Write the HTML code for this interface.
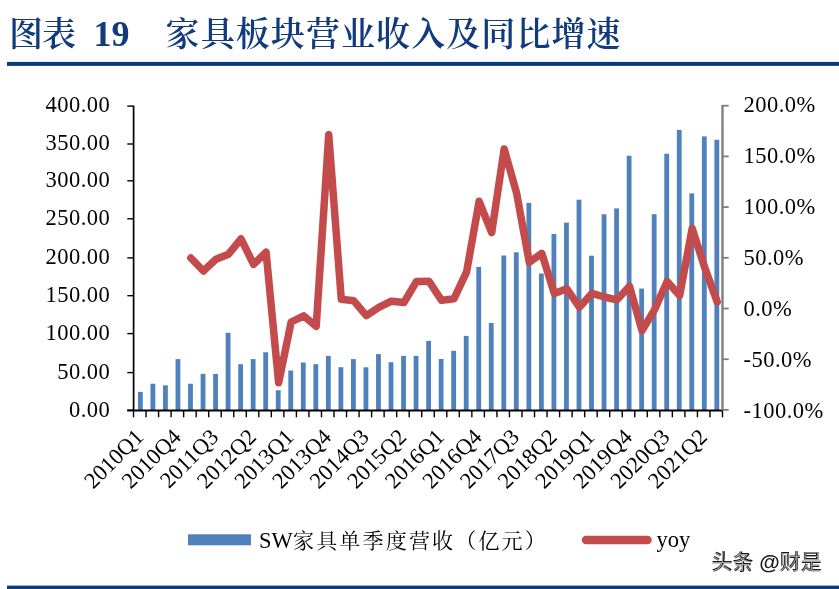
<!DOCTYPE html>
<html><head><meta charset="utf-8"><style>
html,body{margin:0;padding:0;background:#fff;}
body{width:839px;height:589px;overflow:hidden;position:relative;}
svg{position:absolute;left:0;top:0;}
.num{font-family:"Liberation Serif","Noto Serif CJK SC",serif;font-size:22.5px;fill:#000;}
.ttl{font-family:"Liberation Serif","Noto Serif CJK SC",serif;font-weight:700;fill:#113B7C;}
.leg{font-family:"Liberation Serif","Noto Serif CJK SC",serif;font-size:21px;fill:#000;}
.wm{font-family:"Liberation Sans","Noto Sans CJK SC",sans-serif;font-size:21px;font-weight:500;fill:#222;}
</style></head><body>
<svg width="839" height="589" viewBox="0 0 839 589">
<g class="ttl">
<text x="9" y="46.3" font-size="34" letter-spacing="-1" font-weight="600">图表</text>
<text x="93.5" y="46.2" font-size="36">19</text>
<text x="165.6" y="46.3" font-size="34" letter-spacing="1.08" font-weight="600">家具板块营业收入及同比增速</text>
</g>
<rect x="7" y="61.9" width="832" height="4" fill="#073B7E"/>
<g>
<rect x="137.97" y="391.90" width="4.8" height="18.40" fill="#4F81BD"/>
<rect x="150.50" y="383.75" width="4.8" height="26.55" fill="#4F81BD"/>
<rect x="163.03" y="385.30" width="4.8" height="25.00" fill="#4F81BD"/>
<rect x="175.56" y="359.10" width="4.8" height="51.20" fill="#4F81BD"/>
<rect x="188.09" y="383.75" width="4.8" height="26.55" fill="#4F81BD"/>
<rect x="200.63" y="373.90" width="4.8" height="36.40" fill="#4F81BD"/>
<rect x="213.16" y="373.90" width="4.8" height="36.40" fill="#4F81BD"/>
<rect x="225.69" y="332.80" width="4.8" height="77.50" fill="#4F81BD"/>
<rect x="238.22" y="364.20" width="4.8" height="46.10" fill="#4F81BD"/>
<rect x="250.75" y="359.10" width="4.8" height="51.20" fill="#4F81BD"/>
<rect x="263.29" y="352.30" width="4.8" height="58.00" fill="#4F81BD"/>
<rect x="275.82" y="390.30" width="4.8" height="20.00" fill="#4F81BD"/>
<rect x="288.35" y="370.50" width="4.8" height="39.80" fill="#4F81BD"/>
<rect x="300.88" y="362.50" width="4.8" height="47.80" fill="#4F81BD"/>
<rect x="313.41" y="364.20" width="4.8" height="46.10" fill="#4F81BD"/>
<rect x="325.94" y="355.90" width="4.8" height="54.40" fill="#4F81BD"/>
<rect x="338.48" y="367.20" width="4.8" height="43.10" fill="#4F81BD"/>
<rect x="351.01" y="359.10" width="4.8" height="51.20" fill="#4F81BD"/>
<rect x="363.54" y="367.30" width="4.8" height="43.00" fill="#4F81BD"/>
<rect x="376.07" y="354.10" width="4.8" height="56.20" fill="#4F81BD"/>
<rect x="388.60" y="362.20" width="4.8" height="48.10" fill="#4F81BD"/>
<rect x="401.14" y="355.90" width="4.8" height="54.40" fill="#4F81BD"/>
<rect x="413.67" y="355.90" width="4.8" height="54.40" fill="#4F81BD"/>
<rect x="426.20" y="340.90" width="4.8" height="69.40" fill="#4F81BD"/>
<rect x="438.73" y="359.00" width="4.8" height="51.30" fill="#4F81BD"/>
<rect x="451.26" y="350.80" width="4.8" height="59.50" fill="#4F81BD"/>
<rect x="463.80" y="335.90" width="4.8" height="74.40" fill="#4F81BD"/>
<rect x="476.33" y="266.90" width="4.8" height="143.40" fill="#4F81BD"/>
<rect x="488.86" y="323.00" width="4.8" height="87.30" fill="#4F81BD"/>
<rect x="501.39" y="255.50" width="4.8" height="154.80" fill="#4F81BD"/>
<rect x="513.92" y="252.30" width="4.8" height="158.00" fill="#4F81BD"/>
<rect x="526.46" y="202.90" width="4.8" height="207.40" fill="#4F81BD"/>
<rect x="538.99" y="273.50" width="4.8" height="136.80" fill="#4F81BD"/>
<rect x="551.52" y="234.00" width="4.8" height="176.30" fill="#4F81BD"/>
<rect x="564.05" y="222.60" width="4.8" height="187.70" fill="#4F81BD"/>
<rect x="576.58" y="199.70" width="4.8" height="210.60" fill="#4F81BD"/>
<rect x="589.11" y="255.70" width="4.8" height="154.60" fill="#4F81BD"/>
<rect x="601.65" y="214.30" width="4.8" height="196.00" fill="#4F81BD"/>
<rect x="614.18" y="208.40" width="4.8" height="201.90" fill="#4F81BD"/>
<rect x="626.71" y="155.70" width="4.8" height="254.60" fill="#4F81BD"/>
<rect x="639.24" y="288.60" width="4.8" height="121.70" fill="#4F81BD"/>
<rect x="651.77" y="214.20" width="4.8" height="196.10" fill="#4F81BD"/>
<rect x="664.31" y="153.70" width="4.8" height="256.60" fill="#4F81BD"/>
<rect x="676.84" y="129.90" width="4.8" height="280.40" fill="#4F81BD"/>
<rect x="689.37" y="193.40" width="4.8" height="216.90" fill="#4F81BD"/>
<rect x="701.90" y="136.40" width="4.8" height="273.90" fill="#4F81BD"/>
<rect x="714.43" y="139.80" width="4.8" height="270.50" fill="#4F81BD"/>
</g>
<g>
<line x1="133.6" y1="105.4" x2="133.6" y2="411.0" stroke="#000" stroke-width="1.7"/>
<line x1="127.3" y1="106.10" x2="133.5" y2="106.10" stroke="#000" stroke-width="1.4"/>
<line x1="127.3" y1="144.00" x2="133.5" y2="144.00" stroke="#000" stroke-width="1.4"/>
<line x1="127.3" y1="180.80" x2="133.5" y2="180.80" stroke="#000" stroke-width="1.4"/>
<line x1="127.3" y1="218.80" x2="133.5" y2="218.80" stroke="#000" stroke-width="1.4"/>
<line x1="127.3" y1="257.90" x2="133.5" y2="257.90" stroke="#000" stroke-width="1.4"/>
<line x1="127.3" y1="295.70" x2="133.5" y2="295.70" stroke="#000" stroke-width="1.4"/>
<line x1="127.3" y1="333.60" x2="133.5" y2="333.60" stroke="#000" stroke-width="1.4"/>
<line x1="127.3" y1="372.60" x2="133.5" y2="372.60" stroke="#000" stroke-width="1.4"/>
<line x1="127.3" y1="410.30" x2="133.5" y2="410.30" stroke="#000" stroke-width="1.4"/>
<line x1="127.3" y1="410.5" x2="722.5" y2="410.5" stroke="#000" stroke-width="2"/>
<line x1="133.50" y1="410.3" x2="133.50" y2="417.3" stroke="#000" stroke-width="1.4"/>
<line x1="146.03" y1="410.3" x2="146.03" y2="417.3" stroke="#000" stroke-width="1.4"/>
<line x1="158.56" y1="410.3" x2="158.56" y2="417.3" stroke="#000" stroke-width="1.4"/>
<line x1="171.10" y1="410.3" x2="171.10" y2="417.3" stroke="#000" stroke-width="1.4"/>
<line x1="183.63" y1="410.3" x2="183.63" y2="417.3" stroke="#000" stroke-width="1.4"/>
<line x1="196.16" y1="410.3" x2="196.16" y2="417.3" stroke="#000" stroke-width="1.4"/>
<line x1="208.69" y1="410.3" x2="208.69" y2="417.3" stroke="#000" stroke-width="1.4"/>
<line x1="221.22" y1="410.3" x2="221.22" y2="417.3" stroke="#000" stroke-width="1.4"/>
<line x1="233.76" y1="410.3" x2="233.76" y2="417.3" stroke="#000" stroke-width="1.4"/>
<line x1="246.29" y1="410.3" x2="246.29" y2="417.3" stroke="#000" stroke-width="1.4"/>
<line x1="258.82" y1="410.3" x2="258.82" y2="417.3" stroke="#000" stroke-width="1.4"/>
<line x1="271.35" y1="410.3" x2="271.35" y2="417.3" stroke="#000" stroke-width="1.4"/>
<line x1="283.88" y1="410.3" x2="283.88" y2="417.3" stroke="#000" stroke-width="1.4"/>
<line x1="296.41" y1="410.3" x2="296.41" y2="417.3" stroke="#000" stroke-width="1.4"/>
<line x1="308.95" y1="410.3" x2="308.95" y2="417.3" stroke="#000" stroke-width="1.4"/>
<line x1="321.48" y1="410.3" x2="321.48" y2="417.3" stroke="#000" stroke-width="1.4"/>
<line x1="334.01" y1="410.3" x2="334.01" y2="417.3" stroke="#000" stroke-width="1.4"/>
<line x1="346.54" y1="410.3" x2="346.54" y2="417.3" stroke="#000" stroke-width="1.4"/>
<line x1="359.07" y1="410.3" x2="359.07" y2="417.3" stroke="#000" stroke-width="1.4"/>
<line x1="371.61" y1="410.3" x2="371.61" y2="417.3" stroke="#000" stroke-width="1.4"/>
<line x1="384.14" y1="410.3" x2="384.14" y2="417.3" stroke="#000" stroke-width="1.4"/>
<line x1="396.67" y1="410.3" x2="396.67" y2="417.3" stroke="#000" stroke-width="1.4"/>
<line x1="409.20" y1="410.3" x2="409.20" y2="417.3" stroke="#000" stroke-width="1.4"/>
<line x1="421.73" y1="410.3" x2="421.73" y2="417.3" stroke="#000" stroke-width="1.4"/>
<line x1="434.27" y1="410.3" x2="434.27" y2="417.3" stroke="#000" stroke-width="1.4"/>
<line x1="446.80" y1="410.3" x2="446.80" y2="417.3" stroke="#000" stroke-width="1.4"/>
<line x1="459.33" y1="410.3" x2="459.33" y2="417.3" stroke="#000" stroke-width="1.4"/>
<line x1="471.86" y1="410.3" x2="471.86" y2="417.3" stroke="#000" stroke-width="1.4"/>
<line x1="484.39" y1="410.3" x2="484.39" y2="417.3" stroke="#000" stroke-width="1.4"/>
<line x1="496.93" y1="410.3" x2="496.93" y2="417.3" stroke="#000" stroke-width="1.4"/>
<line x1="509.46" y1="410.3" x2="509.46" y2="417.3" stroke="#000" stroke-width="1.4"/>
<line x1="521.99" y1="410.3" x2="521.99" y2="417.3" stroke="#000" stroke-width="1.4"/>
<line x1="534.52" y1="410.3" x2="534.52" y2="417.3" stroke="#000" stroke-width="1.4"/>
<line x1="547.05" y1="410.3" x2="547.05" y2="417.3" stroke="#000" stroke-width="1.4"/>
<line x1="559.59" y1="410.3" x2="559.59" y2="417.3" stroke="#000" stroke-width="1.4"/>
<line x1="572.12" y1="410.3" x2="572.12" y2="417.3" stroke="#000" stroke-width="1.4"/>
<line x1="584.65" y1="410.3" x2="584.65" y2="417.3" stroke="#000" stroke-width="1.4"/>
<line x1="597.18" y1="410.3" x2="597.18" y2="417.3" stroke="#000" stroke-width="1.4"/>
<line x1="609.71" y1="410.3" x2="609.71" y2="417.3" stroke="#000" stroke-width="1.4"/>
<line x1="622.24" y1="410.3" x2="622.24" y2="417.3" stroke="#000" stroke-width="1.4"/>
<line x1="634.78" y1="410.3" x2="634.78" y2="417.3" stroke="#000" stroke-width="1.4"/>
<line x1="647.31" y1="410.3" x2="647.31" y2="417.3" stroke="#000" stroke-width="1.4"/>
<line x1="659.84" y1="410.3" x2="659.84" y2="417.3" stroke="#000" stroke-width="1.4"/>
<line x1="672.37" y1="410.3" x2="672.37" y2="417.3" stroke="#000" stroke-width="1.4"/>
<line x1="684.90" y1="410.3" x2="684.90" y2="417.3" stroke="#000" stroke-width="1.4"/>
<line x1="697.44" y1="410.3" x2="697.44" y2="417.3" stroke="#000" stroke-width="1.4"/>
<line x1="709.97" y1="410.3" x2="709.97" y2="417.3" stroke="#000" stroke-width="1.4"/>
<line x1="722.50" y1="410.3" x2="722.50" y2="417.3" stroke="#000" stroke-width="1.4"/>
<line x1="722.5" y1="105" x2="722.5" y2="410.3" stroke="#7F7F7F" stroke-width="2.4"/>
<line x1="722.5" y1="105.70" x2="728.7" y2="105.70" stroke="#7F7F7F" stroke-width="1.8"/>
<line x1="722.5" y1="156.40" x2="728.7" y2="156.40" stroke="#7F7F7F" stroke-width="1.8"/>
<line x1="722.5" y1="207.10" x2="728.7" y2="207.10" stroke="#7F7F7F" stroke-width="1.8"/>
<line x1="722.5" y1="257.80" x2="728.7" y2="257.80" stroke="#7F7F7F" stroke-width="1.8"/>
<line x1="722.5" y1="308.50" x2="728.7" y2="308.50" stroke="#7F7F7F" stroke-width="1.8"/>
<line x1="722.5" y1="359.20" x2="728.7" y2="359.20" stroke="#7F7F7F" stroke-width="1.8"/>
<line x1="722.5" y1="409.90" x2="728.7" y2="409.90" stroke="#7F7F7F" stroke-width="1.8"/>
</g>
<polyline points="190.89,258.00 203.43,271.00 215.96,259.20 228.49,254.20 241.02,238.80 253.55,264.30 266.09,252.20 278.62,382.70 291.15,322.00 303.68,315.80 316.21,326.30 328.74,134.70 341.28,299.30 353.81,300.80 366.34,315.60 378.87,307.30 391.40,301.20 403.94,302.50 416.47,281.50 429.00,281.30 441.53,300.40 454.06,298.70 466.60,271.90 479.13,201.30 491.66,232.60 504.19,149.00 516.72,193.60 529.26,262.30 541.79,253.40 554.32,293.40 566.85,288.80 579.38,307.20 591.91,293.40 604.45,297.00 616.98,299.80 629.51,286.20 642.04,330.70 654.57,309.60 667.11,281.50 679.64,295.50 692.17,228.50 704.70,267.50 717.23,301.90" fill="none" stroke="#C44B4B" stroke-width="7.5" stroke-linejoin="round" stroke-linecap="round"/>
<g class="num">
<text x="110.2" y="111.70" text-anchor="end" letter-spacing="0.45">400.00</text>
<text x="110.2" y="149.78" text-anchor="end" letter-spacing="0.45">350.00</text>
<text x="110.2" y="186.75" text-anchor="end" letter-spacing="0.45">300.00</text>
<text x="110.2" y="224.93" text-anchor="end" letter-spacing="0.45">250.00</text>
<text x="110.2" y="264.20" text-anchor="end" letter-spacing="0.45">200.00</text>
<text x="110.2" y="302.18" text-anchor="end" letter-spacing="0.45">150.00</text>
<text x="110.2" y="340.25" text-anchor="end" letter-spacing="0.45">100.00</text>
<text x="110.2" y="379.43" text-anchor="end" letter-spacing="0.45">50.00</text>
<text x="110.2" y="417.30" text-anchor="end" letter-spacing="0.45">0.00</text>
<text x="743.6" y="111.60" letter-spacing="0.45">200.0%</text>
<text x="743.6" y="162.58" letter-spacing="0.45">150.0%</text>
<text x="743.6" y="213.57" letter-spacing="0.45">100.0%</text>
<text x="743.6" y="264.55" letter-spacing="0.45">50.0%</text>
<text x="743.6" y="315.53" letter-spacing="0.45">0.0%</text>
<text x="743.6" y="366.52" letter-spacing="0.45">-50.0%</text>
<text x="743.6" y="417.50" letter-spacing="0.45">-100.0%</text>
</g>
<g class="num" style="font-size:22.6px">
<text transform="translate(139.37,433) rotate(-45)" text-anchor="end" dy="0.33em">2010Q1</text>
<text transform="translate(176.96,433) rotate(-45)" text-anchor="end" dy="0.33em">2010Q4</text>
<text transform="translate(214.56,433) rotate(-45)" text-anchor="end" dy="0.33em">2011Q3</text>
<text transform="translate(252.15,433) rotate(-45)" text-anchor="end" dy="0.33em">2012Q2</text>
<text transform="translate(289.75,433) rotate(-45)" text-anchor="end" dy="0.33em">2013Q1</text>
<text transform="translate(327.34,433) rotate(-45)" text-anchor="end" dy="0.33em">2013Q4</text>
<text transform="translate(364.94,433) rotate(-45)" text-anchor="end" dy="0.33em">2014Q3</text>
<text transform="translate(402.54,433) rotate(-45)" text-anchor="end" dy="0.33em">2015Q2</text>
<text transform="translate(440.13,433) rotate(-45)" text-anchor="end" dy="0.33em">2016Q1</text>
<text transform="translate(477.73,433) rotate(-45)" text-anchor="end" dy="0.33em">2016Q4</text>
<text transform="translate(515.32,433) rotate(-45)" text-anchor="end" dy="0.33em">2017Q3</text>
<text transform="translate(552.92,433) rotate(-45)" text-anchor="end" dy="0.33em">2018Q2</text>
<text transform="translate(590.51,433) rotate(-45)" text-anchor="end" dy="0.33em">2019Q1</text>
<text transform="translate(628.11,433) rotate(-45)" text-anchor="end" dy="0.33em">2019Q4</text>
<text transform="translate(665.71,433) rotate(-45)" text-anchor="end" dy="0.33em">2020Q3</text>
<text transform="translate(703.30,433) rotate(-45)" text-anchor="end" dy="0.33em">2021Q2</text>
</g>
<rect x="188" y="534.3" width="63" height="11" fill="#4F81BD"/>
<text class="leg" x="259" y="548.1" style="font-size:22.5px">SW</text>
<text class="leg" x="293" y="548.3" letter-spacing="2.18">家具单季度营收（亿元）</text>
<line x1="586" y1="540" x2="647.5" y2="540" stroke="#C44B4B" stroke-width="8.5" stroke-linecap="round"/>
<text class="leg" x="656.5" y="546.5" style="font-size:22.5px">yoy</text>
<text class="wm" x="711.5" y="569.3" style="font-weight:700;fill:#1a1a1a">头条 @财是</text>
<text class="wm" x="710.9" y="568.6" style="font-weight:300;fill:#fff" opacity="0.6">头条<tspan fill-opacity="0"> @</tspan>财是</text>
<rect x="7" y="585.6" width="832" height="3.4" fill="#073B7E"/>
</svg>
</body></html>
